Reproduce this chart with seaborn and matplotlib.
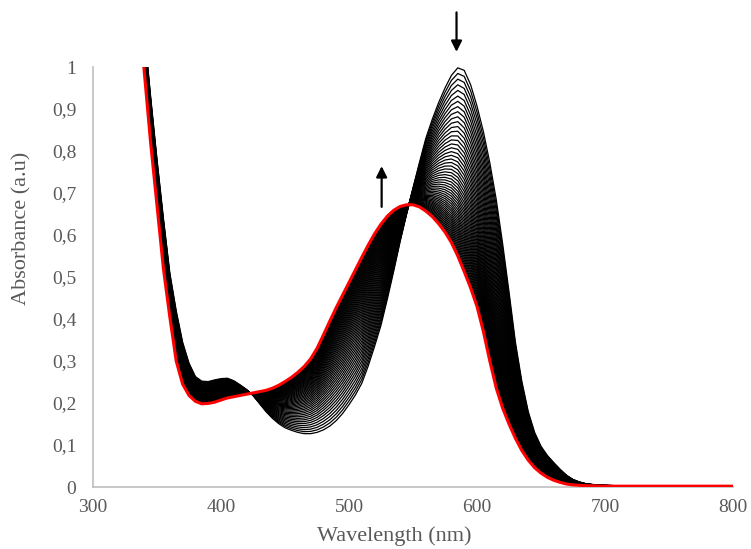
import numpy as np
import pandas as pd
import matplotlib
matplotlib.use("Agg")
import matplotlib.pyplot as plt
import seaborn as sns
from matplotlib.ticker import FuncFormatter, MultipleLocator

# ---------------- data ----------------
wavelength = list(range(330, 701, 5)) + list(range(710, 801, 10))

start_abs = [1.50, 1.28, 1.09, 0.93, 0.78, 0.64, 0.51, 0.42, 0.345, 0.295,
             0.263, 0.252, 0.251, 0.255, 0.258, 0.259, 0.253, 0.243, 0.232, 0.218,
             0.199, 0.180, 0.164, 0.151, 0.141, 0.135, 0.130, 0.127, 0.127, 0.130,
             0.136, 0.145, 0.158, 0.175, 0.196, 0.219, 0.247, 0.288, 0.335, 0.385,
             0.448, 0.515, 0.585, 0.650, 0.712, 0.772, 0.830, 0.875, 0.915, 0.950,
             0.980, 0.998, 0.992, 0.958, 0.907, 0.846, 0.772, 0.685, 0.580, 0.465,
             0.345, 0.252, 0.180, 0.130, 0.097, 0.075, 0.058, 0.042, 0.028, 0.018,
             0.012, 0.008, 0.006, 0.005, 0.004,
             0.003, 0.003, 0.002, 0.002, 0.002, 0.002, 0.002, 0.002, 0.002, 0.002]

end_abs = [1.40, 1.18, 0.99, 0.82, 0.67, 0.52, 0.405, 0.300, 0.245, 0.218,
           0.204, 0.198, 0.199, 0.202, 0.207, 0.212, 0.215, 0.218, 0.221, 0.224,
           0.227, 0.230, 0.235, 0.242, 0.251, 0.261, 0.273, 0.287, 0.305, 0.330,
           0.362, 0.395, 0.427, 0.457, 0.487, 0.517, 0.547, 0.576, 0.603, 0.626,
           0.645, 0.659, 0.668, 0.672, 0.672, 0.667, 0.657, 0.644, 0.627, 0.607,
           0.582, 0.550, 0.513, 0.474, 0.430, 0.370, 0.300, 0.236, 0.188, 0.150,
           0.116, 0.087, 0.064, 0.046, 0.033, 0.023, 0.016, 0.011, 0.007, 0.005,
           0.004, 0.003, 0.003, 0.002, 0.002,
           0.002, 0.002, 0.002, 0.002, 0.002, 0.002, 0.002, 0.002, 0.002, 0.002]

# conversion fraction of each recorded spectrum of the titration
fractions = [0.00, 0.03, 0.06, 0.09, 0.12, 0.15, 0.178, 0.206, 0.233, 0.26,
             0.286, 0.312, 0.337, 0.362, 0.386, 0.41, 0.433, 0.456, 0.478, 0.50,
             0.521, 0.542, 0.562, 0.582, 0.601, 0.62, 0.638, 0.656, 0.673, 0.69,
             0.706, 0.722, 0.738, 0.753, 0.768, 0.783, 0.797, 0.811, 0.825, 0.839,
             0.852, 0.865, 0.878, 0.891, 0.904, 0.917, 0.93, 0.943, 0.956, 0.969,
             0.982, 1.00]

x_ticks = [300, 400, 500, 600, 700, 800]

# ---------------- build table ----------------
S = np.array(start_abs)
E = np.array(end_abs)
rows = []
for i, f in enumerate(fractions):
    y = (1 - f) * S + f * E
    rows.append(pd.DataFrame({"wl": wavelength, "abs": y, "curve": f"c{i:02d}"}))
df = pd.concat(rows, ignore_index=True)

# ---------------- style ----------------
sns.set_theme(style="white")
plt.rcParams["font.family"] = ["Liberation Serif", "DejaVu Serif"]
plt.rcParams["lines.solid_joinstyle"] = "round"
plt.rcParams["lines.solid_capstyle"] = "round"
grey_txt = "#595959"
grey_ax = "#bfbfbf"

fig = plt.figure(figsize=(7.51, 5.49), dpi=100)
ax = fig.add_axes([93 / 751, 1 - 487 / 549, 640 / 751, 420 / 549])

n = len(fractions)
sns.lineplot(data=df, x="wl", y="abs", hue="curve", palette=["black"] * n,
             linewidth=0.9, legend=False, estimator=None, sort=False, ax=ax)
sns.lineplot(x=wavelength, y=end_abs, color="red", linewidth=2.2,
             estimator=None, sort=False, ax=ax, zorder=5)

ax.set_xlim(300, 800)
ax.set_ylim(0, 1)
ax.set_xticks(x_ticks)
ax.yaxis.set_major_locator(MultipleLocator(0.1))
fmt = FuncFormatter(lambda v, p: ("%g" % round(v, 2)).replace(".", ","))
ax.yaxis.set_major_formatter(fmt)
ax.xaxis.set_major_formatter(FuncFormatter(lambda v, p: "%d" % v))

for s in ["top", "right"]:
    ax.spines[s].set_visible(False)
for s in ["left", "bottom"]:
    ax.spines[s].set_color(grey_ax)
    ax.spines[s].set_linewidth(1.2)
ax.tick_params(axis="both", length=0, labelsize=14, colors=grey_txt)
ax.tick_params(axis="x", pad=9)
ax.tick_params(axis="y", pad=12)
ax.set_xlabel("")
ax.set_ylabel("")
ax.grid(False)

fig.text(394 / 751, 1 - 536 / 549, "Wavelength (nm)", ha="center", va="center",
         fontsize=16, color=grey_txt)
fig.text(22 / 751, 1 - 228 / 549, "Absorbance (a.u)", ha="center", va="center",
         rotation=90, fontsize=16, color=grey_txt)

# arrows
ax.annotate("", xy=(584, 1.036), xytext=(584, 1.13),
            arrowprops=dict(arrowstyle="-|>", color="black", lw=1.6,
                            mutation_scale=16, shrinkA=0, shrinkB=0),
            annotation_clip=False)
ax.annotate("", xy=(525.5, 0.764), xytext=(525.5, 0.667),
            arrowprops=dict(arrowstyle="-|>", color="black", lw=1.6,
                            mutation_scale=16, shrinkA=0, shrinkB=0),
            annotation_clip=False)

fig.savefig("out.png", dpi=100)
